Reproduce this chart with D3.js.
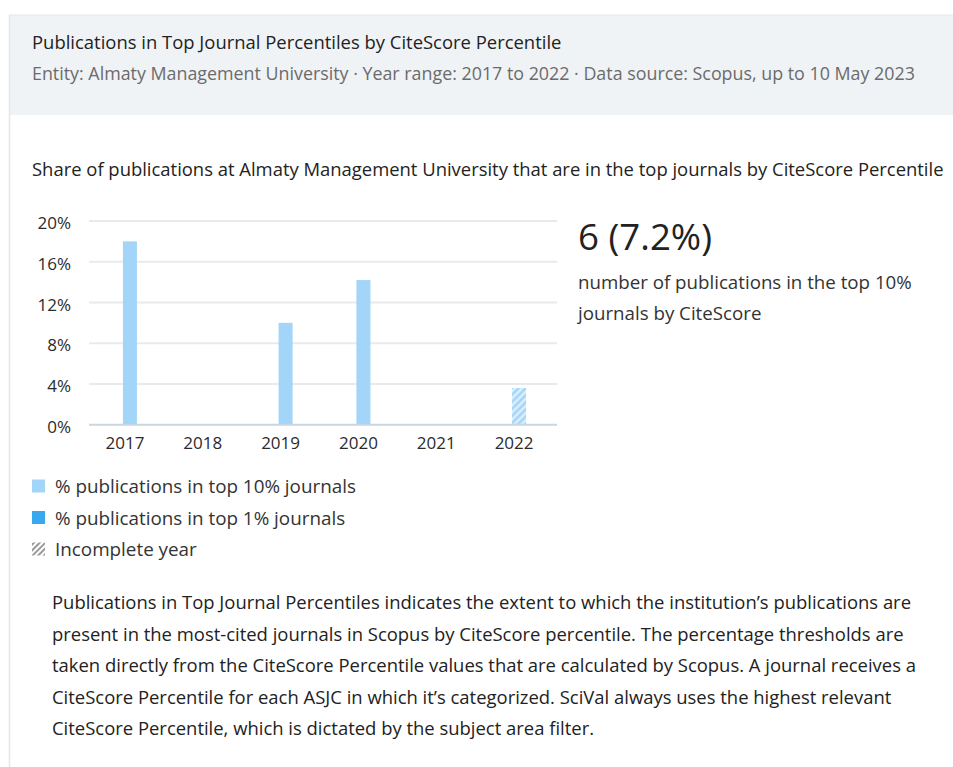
<!DOCTYPE html>
<html>
<head>
<meta charset="utf-8">
<script src="https://cdn.jsdelivr.net/npm/d3@7"></script>
<style>
  html, body { margin: 0; padding: 0; background: #fff; }
  svg { display: block; font-family: "Open Sans", Lato, sans-serif; }
</style>
</head>
<body>
<div id="chart"></div>
<script>
// ---- data ----
var years = ['2017', '2018', '2019', '2020', '2021', '2022'];
var top10Share = [18.0, 0, 10.0, 14.2, 0, 3.6];
var top1Share = [0, 0, 0, 0, 0, 0];
var incompleteYears = ['2022'];
var yTicks = [0, 4, 8, 12, 16, 20];
var seriesNames = ['% publications in top 10% journals', '% publications in top 1% journals'];
var seriesColors = ['#a2d5f7', '#3aa8ec'];

var W = 953, H = 767;
var svg = d3.select('#chart').append('svg').attr('width', W).attr('height', H);

// shrink/grow font so a text line spans the width seen in the reference
function fitWidth(sel, w) {
    sel.each(function() {
        var fs = parseFloat(this.getAttribute('font-size'));
        var len = this.getComputedTextLength();
        if (len > 0) this.setAttribute('font-size', (fs * w / len).toFixed(2));
    });
    return sel;
}

// hatch patterns for incomplete years
var defs = svg.append('defs');
var pat = defs.append('pattern')
    .attr('id', 'hatch')
    .attr('patternUnits', 'userSpaceOnUse')
    .attr('width', 5).attr('height', 5)
    .attr('patternTransform', 'rotate(45)');
pat.append('rect').attr('width', 5).attr('height', 5).attr('fill', '#dcefFc');
pat.append('rect').attr('width', 2.5).attr('height', 5).attr('fill', '#a2d5f7');
var patG = defs.append('pattern')
    .attr('id', 'hatchGrey')
    .attr('patternUnits', 'userSpaceOnUse')
    .attr('width', 4).attr('height', 4)
    .attr('patternTransform', 'rotate(45)');
patG.append('rect').attr('width', 4).attr('height', 4).attr('fill', '#fff');
patG.append('rect').attr('width', 2).attr('height', 4).attr('fill', '#9a9a9a');

// ---- panel frame + header ----
svg.append('rect').attr('x', 9).attr('y', 15).attr('width', W - 9).attr('height', 100).attr('fill', '#eff3f6');
svg.append('line').attr('x1', 9.5).attr('x2', 9.5).attr('y1', 15).attr('y2', H).attr('stroke', '#e4e7ea').attr('stroke-width', 1.5);
svg.append('line').attr('x1', 9).attr('x2', W).attr('y1', 15).attr('y2', 15).attr('stroke', '#e4e7ea');

fitWidth(svg.append('text').attr('x', 32).attr('y', 49)
    .attr('font-size', 17).attr('fill', '#222')
    .text('Publications in Top Journal Percentiles by CiteScore Percentile'), 530);
fitWidth(svg.append('text').attr('x', 32).attr('y', 80)
    .attr('font-size', 15).attr('fill', '#6b6b6b')
    .text('Entity: Almaty Management University  \u00B7  Year range: 2017 to 2022  \u00B7  Data source: Scopus, up to 10 May 2023'), 883);

fitWidth(svg.append('text').attr('x', 32).attr('y', 176)
    .attr('font-size', 16).attr('fill', '#222')
    .text('Share of publications at Almaty Management University that are in the top journals by CiteScore Percentile'), 912);

// ---- chart ----
var y = d3.scaleLinear().domain([0, 20]).range([424.7, 221]);
var x0 = d3.scaleBand().domain(years).range([86, 553]);
var x1 = d3.scaleBand().domain(['top1', 'top10']).range([-16, 12]);

var grid = svg.append('g');
grid.selectAll('line').data(yTicks.filter(function(d) { return d > 0; })).join('line')
    .attr('x1', 89).attr('x2', 557)
    .attr('y1', function(d) { return y(d); }).attr('y2', function(d) { return y(d); })
    .attr('stroke', '#e8eaed').attr('stroke-width', 2);

var yAxis = svg.append('g').attr('transform', 'translate(71,0)')
    .call(d3.axisLeft(y).tickValues(yTicks).tickSize(0).tickPadding(0).tickFormat(function(d) { return d + '%'; }));
yAxis.select('.domain').remove();
yAxis.selectAll('text').attr('font-size', 17).attr('fill', '#2b2b2b').attr('font-family', '"Open Sans", sans-serif').attr('dy', '0.45em');

var bars = [];
years.forEach(function(yr, i) {
    bars.push({ year: yr, key: 'top10', v: top10Share[i], color: seriesColors[0] });
    bars.push({ year: yr, key: 'top1', v: top1Share[i], color: seriesColors[1] });
});
svg.append('g').selectAll('rect').data(bars.filter(function(d) { return d.v > 0; })).join('rect')
    .attr('x', function(d) { return x0(d.year) + x0.bandwidth() / 2 + x1(d.key); })
    .attr('width', x1.bandwidth())
    .attr('y', function(d) { return y(d.v); })
    .attr('height', function(d) { return y(0) - y(d.v); })
    .attr('fill', function(d) { return incompleteYears.indexOf(d.year) >= 0 ? 'url(#hatch)' : d.color; });

svg.append('line').attr('x1', 89).attr('x2', 557).attr('y1', y(0)).attr('y2', y(0))
    .attr('stroke', '#c9d5e3').attr('stroke-width', 2);

var xAxis = svg.append('g').attr('transform', 'translate(0,' + y(0) + ')')
    .call(d3.axisBottom(x0).tickSize(0).tickPadding(0));
xAxis.select('.domain').remove();
xAxis.selectAll('text').attr('font-size', 17).attr('fill', '#2b2b2b').attr('font-family', '"Open Sans", sans-serif').attr('dy', '1.45em');

// ---- summary ----
fitWidth(svg.append('text').attr('x', 578).attr('y', 250).attr('font-size', 30).attr('fill', '#222').text('6 (7.2%)'), 134);
var sumFs = fitWidth(svg.append('text').attr('x', 578).attr('y', 289).attr('font-size', 16).attr('fill', '#333')
    .text('number of publications in the top 10%'), 334).attr('font-size');
svg.append('text').attr('x', 578).attr('y', 320).attr('font-size', sumFs).attr('fill', '#333').text('journals by CiteScore');

// ---- legend ----
var legItems = [
    { label: seriesNames[0], fill: seriesColors[0] },
    { label: seriesNames[1], fill: seriesColors[1] },
    { label: 'Incomplete year', fill: 'url(#hatchGrey)' }
];
var lg = svg.append('g').selectAll('g').data(legItems).join('g')
    .attr('transform', function(d, i) { return 'translate(32,' + (486 + i * 31.5) + ')'; });
lg.append('rect').attr('x', 0).attr('y', -6.5).attr('width', 13).attr('height', 13)
    .attr('fill', function(d) { return d.fill; });
var legText = lg.append('text').attr('x', 23).attr('dy', '0.38em').attr('font-size', 16).attr('fill', '#333')
    .text(function(d) { return d.label; });
var legFs = fitWidth(d3.select(legText.nodes()[0]), 301).attr('font-size');
legText.attr('font-size', legFs);

// ---- description ----
var para = [
    'Publications in Top Journal Percentiles indicates the extent to which the institution\u2019s publications are',
    'present in the most-cited journals in Scopus by CiteScore percentile. The percentage thresholds are',
    'taken directly from the CiteScore Percentile values that are calculated by Scopus. A journal receives a',
    'CiteScore Percentile for each ASJC in which it\u2019s categorized. SciVal always uses the highest relevant',
    'CiteScore Percentile, which is dictated by the subject area filter.'
];
var paraText = svg.append('g').selectAll('text').data(para).join('text')
    .attr('x', 52).attr('y', function(d, i) { return 609 + i * 31.5; })
    .attr('font-size', 16).attr('fill', '#222')
    .text(function(d) { return d; });
var paraFs = fitWidth(d3.select(paraText.nodes()[0]), 860).attr('font-size');
paraText.attr('font-size', paraFs);
</script>
</body>
</html>
